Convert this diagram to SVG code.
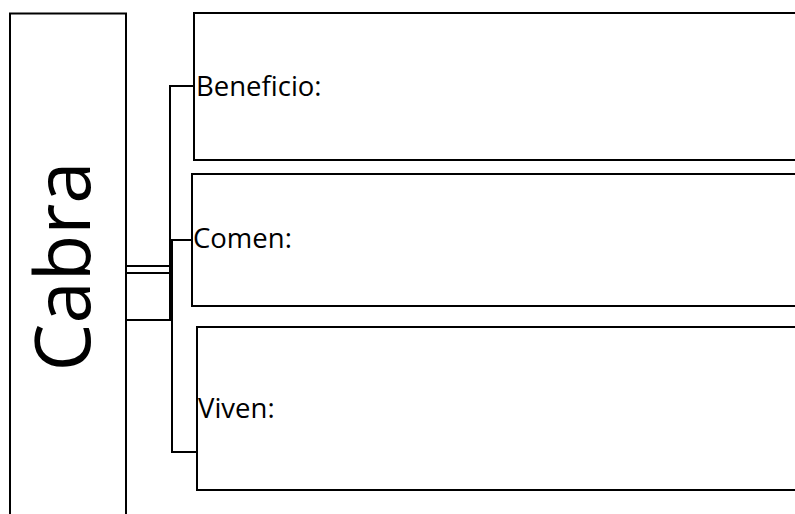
<svg xmlns="http://www.w3.org/2000/svg" width="795" height="514" viewBox="0 0 795 514">
<style>
.box{fill:#fff;stroke:#000;stroke-width:2}
.con{fill:none;stroke:#000;stroke-width:2}
.lbl{font-family:"Open Sans","Liberation Sans",sans-serif;font-size:27.5px;fill:#000}
.big{font-family:"Open Sans","Liberation Sans",sans-serif;font-size:76px;fill:#000}
</style>
<rect width="795" height="514" fill="#fff"/>
<g id="cabra">
<rect class="box" x="10" y="13.5" width="116" height="520"/>
<text class="big" transform="translate(90,266.5) rotate(-90)" text-anchor="middle">Cabra</text>
</g>
<g id="beneficio">
<rect class="box" x="194" y="13" width="620" height="147"/>
<text class="lbl" x="196" y="96">Beneficio:</text>
</g>
<g id="comen">
<rect class="box" x="192" y="174" width="620" height="132"/>
<text class="lbl" x="193" y="248">Comen:</text>
</g>
<g id="viven">
<rect class="box" x="197" y="327" width="620" height="163"/>
<text class="lbl" x="198" y="418">Viven:</text>
</g>
<g id="connectors">
<path class="con" d="M126,320 H170 V86 H194"/>
<path class="con" d="M126,273 H172 V240 H192"/>
<path class="con" d="M126,266 H172 V452 H197"/>
</g>
</svg>
